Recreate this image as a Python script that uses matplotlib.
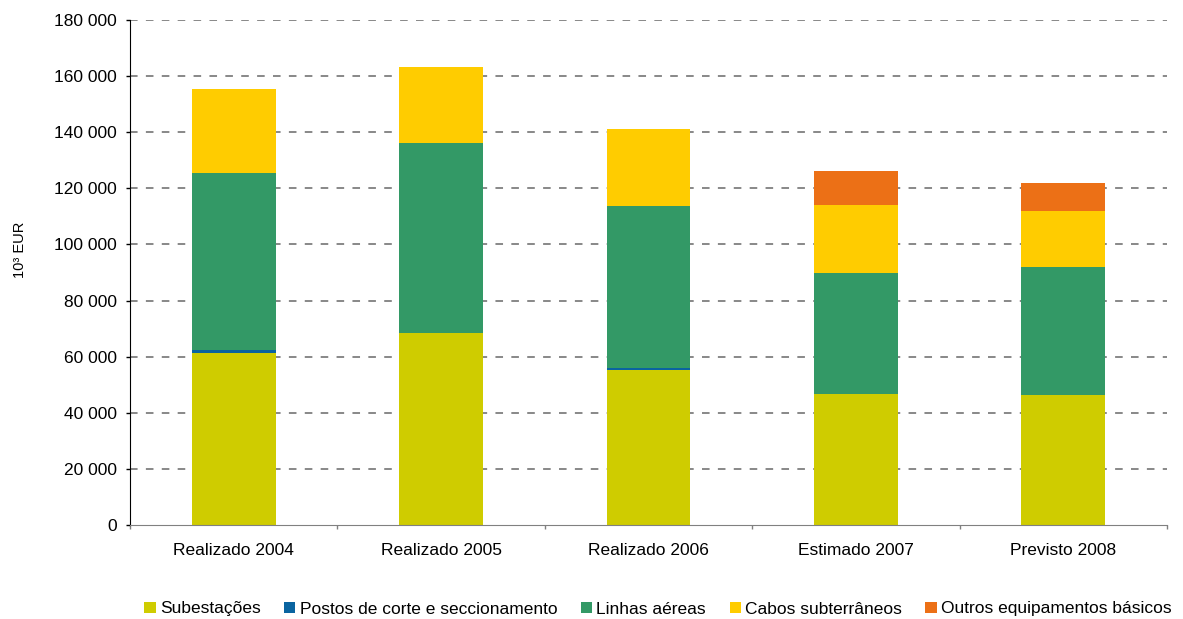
import numpy as np
import matplotlib.pyplot as plt
from matplotlib.patches import Patch
from matplotlib.ticker import FuncFormatter, FixedLocator

plt.rcParams['font.family'] = ['Liberation Sans', 'DejaVu Sans']

# Investimentos (10^3 EUR)
anos = ['Realizado 2004', 'Realizado 2005', 'Realizado 2006', 'Estimado 2007', 'Previsto 2008']
subestacoes = [61300, 68400, 55200, 46700, 46300]
postos = [1000, 0, 700, 0, 0]
linhas = [63100, 67700, 57800, 43100, 45600]
cabos = [30000, 27100, 27400, 24200, 20000]
outros = [0, 0, 0, 12200, 10000]

series = [
    ('Subestações', subestacoes, '#CFCC00'),
    ('Postos de corte e seccionamento', postos, '#0A64A0'),
    ('Linhas aéreas', linhas, '#339966'),
    ('Cabos subterrâneos', cabos, '#FFCC00'),
    ('Outros equipamentos básicos', outros, '#EC7016'),
]

fig = plt.figure(figsize=(11.83, 6.19), dpi=100)
ax = fig.add_axes([130 / 1183, 94 / 619, 1037 / 1183, 505 / 619])

x = np.arange(len(anos))
base = np.zeros(len(anos))
for nome, vals, cor in series:
    vals = np.array(vals, dtype=float)
    ax.bar(x, vals, 0.405, bottom=base, color=cor, label=nome, zorder=2)
    base += vals

ax.set_xlim(-0.5, len(anos) - 0.5)
ax.set_ylim(0, 180000)
ax.set_yticks(np.arange(0, 180001, 20000))
ax.yaxis.set_major_formatter(FuncFormatter(lambda v, p: f'{int(v):,}'.replace(',', ' ')))

# linhas de grelha tracejadas (sem a do zero)
for v in np.arange(20000, 180001, 20000):
    ax.axhline(v, color='#7F7F7F', lw=1.3, dashes=(4.2, 4.6), zorder=1)

ax.set_xticks(x)
ax.set_xticklabels(anos)
ax.xaxis.set_minor_locator(FixedLocator(np.arange(-0.5, len(anos), 1)))
ax.tick_params(axis='x', which='major', length=0, pad=13, labelsize=12.5)
ax.tick_params(axis='x', which='minor', length=3, color='#808080', width=1)
ax.tick_params(axis='y', length=3, width=1, color='black', pad=6.5, labelsize=12.5)

for s in ['top', 'right']:
    ax.spines[s].set_visible(False)
ax.spines['left'].set_color('black')
ax.spines['bottom'].set_color('#808080')
ax.spines['bottom'].set_zorder(3)

fig.text(20 / 1183, 1 - 250 / 619, '10³ EUR', rotation=90, ha='center', va='center', fontsize=10.5)

handles = [Patch(facecolor=c, edgecolor='none') for _, _, c in series]
fig.legend(handles, [n for n, _, _ in series], loc='center', ncol=5,
           bbox_to_anchor=(658 / 1183, 1 - 609 / 619), frameon=False,
           fontsize=12.5, handlelength=0.65, handleheight=0.65,
           handletextpad=0.25, columnspacing=1.35)

fig.savefig('out.png', dpi=100)
